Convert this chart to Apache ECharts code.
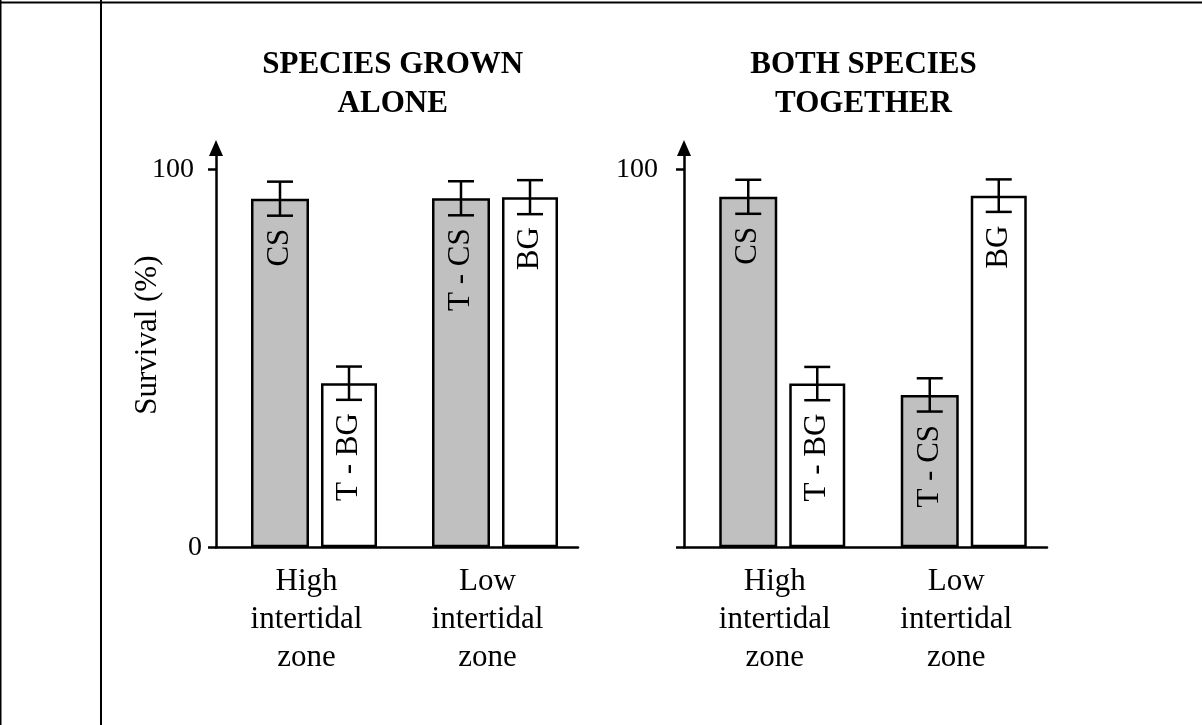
<!DOCTYPE html>
<html><head><meta charset="utf-8">
<script src="https://cdn.jsdelivr.net/npm/echarts@6/dist/echarts.min.js"></script>
<style>html,body{margin:0;padding:0;background:#fff}#c{width:1202px;height:725px}</style>
</head><body><div id="c"></div>
<script>
// ---- data ----
const categories = ['High\nintertidal\nzone', 'Low\nintertidal\nzone'];
const panelTitles = ['SPECIES GROWN\nALONE', 'BOTH SPECIES\nTOGETHER'];
const grayLabels = ['CS', 'T - CS'];
const whiteLabels = ['T - BG', 'BG'];
const aloneGray = [92.2, 92.3];
const aloneGrayErr = [4.5, 4.5];
const aloneWhite = [43.4, 92.6];
const aloneWhiteErr = [4.4, 4.5];
const togetherGray = [92.7, 40.3];
const togetherGrayErr = [4.5, 4.4];
const togetherWhite = [43.3, 93.0];
const togetherWhiteErr = [4.4, 4.3];
const yTicks = [0, 100];
const yLabelsLeft = [0, 100];
const yLabelsRight = [100];
const yAxisName = 'Survival (%)';

// ---- style / layout ----
const FONT = '"Liberation Serif", "Times New Roman", serif';
const W_GRAY = 58, W_WHITE = 56, GAP = 0.207, SPACER = 12.43;
const total = SPACER * (1 + GAP) + W_GRAY * (1 + GAP) + W_WHITE;
const offGray = -total / 2 + SPACER * (1 + GAP) + W_GRAY / 2;
const offWhite = -total / 2 + SPACER * (1 + GAP) + W_GRAY * (1 + GAP) + W_WHITE / 2;
const Y_MAX = 105.6;
const LW = 2.5;

function xAxis(i) {
  return {
    type: 'category', gridIndex: i, data: categories,
    axisLine: { lineStyle: { color: '#000', width: LW } },
    axisTick: { show: false },
    axisLabel: { color: '#000', fontFamily: FONT, fontSize: 31, lineHeight: 38.3, margin: 15, interval: 0 },
    splitLine: { show: false }
  };
}
function yAxis(i) {
  const left = i === 0;
  const ax = {
    type: 'value', gridIndex: i, min: 0, max: Y_MAX,
    axisLine: { show: true, symbol: ['none', 'triangle'], symbolSize: [14, 16], lineStyle: { color: '#000', width: LW } },
    axisTick: { show: true, length: 8, customValues: yTicks, lineStyle: { color: '#000', width: LW } },
    axisLabel: {
      customValues: left ? yLabelsLeft : yLabelsRight,
      margin: left ? 14 : 26,
      color: '#000', fontFamily: FONT, fontSize: 28,
      formatter: v => (v === 0 ? '{z|0}' : '{h|' + v + '}'),
      rich: {
        z: { fontFamily: FONT, fontSize: 28, color: '#000' },
        h: { fontFamily: FONT, fontSize: 28, color: '#000', padding: [0, left ? 8 : 0, 0, 0] }
      }
    },
    splitLine: { show: false }
  };
  if (left) {
    ax.name = yAxisName;
    ax.nameLocation = 'middle';
    ax.nameRotate = 90;
    ax.nameGap = 53;
    ax.nameMoveOverlap = false;
    ax.nameTextStyle = { color: '#000', fontFamily: FONT, fontSize: 31, padding: [0, 0, 0, 25] };
  }
  return ax;
}
function barSeries(i, vals, labels, color, w) {
  return {
    type: 'bar', xAxisIndex: i, yAxisIndex: i, data: vals, barWidth: w, barGap: (GAP * 100) + '%',
    itemStyle: { color: color, borderColor: '#000', borderWidth: LW },
    emphasis: { disabled: true }, silent: true,
    label: {
      show: true, position: 'insideTop', distance: 30, rotate: 90, align: 'right', verticalAlign: 'middle',
      formatter: p => labels[p.dataIndex], fontFamily: FONT, fontSize: 31, color: '#000'
    }
  };
}
function spacer(i) {
  return { type: 'bar', name: '_spacer', xAxisIndex: i, yAxisIndex: i, data: [], barWidth: SPACER, barGap: (GAP * 100) + '%', silent: true };
}
function errSeries(i, vals, errs, off) {
  return {
    type: 'custom', xAxisIndex: i, yAxisIndex: i, z: 5, silent: true,
    data: vals.map((v, k) => [k, v, errs[k]]),
    encode: { x: 0, y: 1 },
    renderItem(params, api) {
      const c = api.value(0), v = api.value(1), e = api.value(2);
      const hi = api.coord([c, v + e]), lo = api.coord([c, v - e]);
      const x = hi[0] + off, hw = 13;
      const st = { stroke: '#000', lineWidth: LW };
      return { type: 'group', children: [
        { type: 'line', shape: { x1: x, y1: hi[1], x2: x, y2: lo[1] }, style: st },
        { type: 'line', shape: { x1: x - hw, y1: hi[1], x2: x + hw, y2: hi[1] }, style: st },
        { type: 'line', shape: { x1: x - hw, y1: lo[1], x2: x + hw, y2: lo[1] }, style: st }
      ] };
    }
  };
}

const chart = echarts.init(document.getElementById('c'), null, { renderer: 'canvas' });
const titleStyle = (t) => ({ text: t, fontFamily: FONT, fontSize: 31, fontWeight: 'bold', fill: '#000', textAlign: 'center', textVerticalAlign: 'top', lineHeight: 38.5 });
chart.setOption({
  animation: false,
  backgroundColor: '#fff',
  grid: [
    { left: 216, top: 148, width: 362, height: 399.3 },
    { left: 684, top: 148, width: 363, height: 399.3 }
  ],
  xAxis: [xAxis(0), xAxis(1)],
  yAxis: [yAxis(0), yAxis(1)],
  series: [
    spacer(0),
    barSeries(0, aloneGray, grayLabels, '#c0c0c0', W_GRAY),
    barSeries(0, aloneWhite, whiteLabels, '#ffffff', W_WHITE),
    errSeries(0, aloneGray, aloneGrayErr, offGray),
    errSeries(0, aloneWhite, aloneWhiteErr, offWhite),
    spacer(1),
    barSeries(1, togetherGray, grayLabels, '#c0c0c0', W_GRAY),
    barSeries(1, togetherWhite, whiteLabels, '#ffffff', W_WHITE),
    errSeries(1, togetherGray, togetherGrayErr, offGray),
    errSeries(1, togetherWhite, togetherWhiteErr, offWhite)
  ],
  graphic: [
    { type: 'line', silent: true, shape: { x1: 0, y1: 2.5, x2: 1202, y2: 2.5 }, style: { stroke: '#000', lineWidth: 2 } },
    { type: 'line', silent: true, shape: { x1: 101, y1: 0, x2: 101, y2: 725 }, style: { stroke: '#000', lineWidth: 2 } },
    { type: 'line', silent: true, shape: { x1: 0.75, y1: 0, x2: 0.75, y2: 725 }, style: { stroke: '#000', lineWidth: 1.5 } },
    { type: 'text', silent: true, x: 392.7, y: 46, style: titleStyle(panelTitles[0]) },
    { type: 'text', silent: true, x: 863.5, y: 46, style: titleStyle(panelTitles[1]) }
  ]
});
</script>
</body></html>
